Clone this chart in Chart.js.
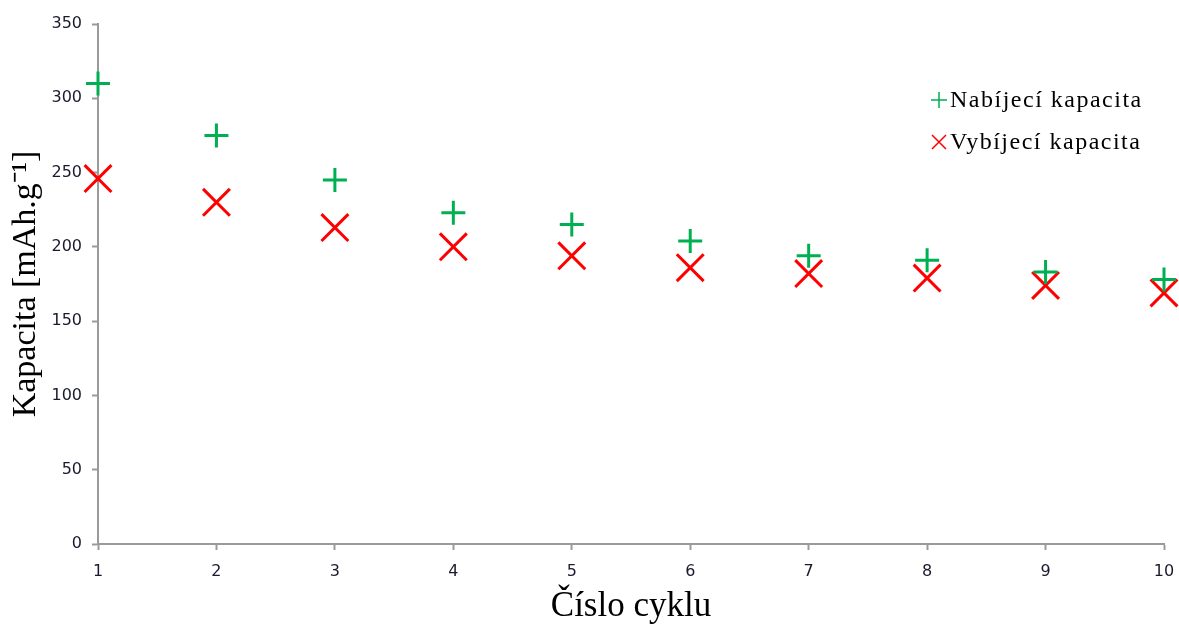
<!DOCTYPE html>
<html>
<head>
<meta charset="utf-8">
<script src="https://cdn.jsdelivr.net/npm/chart.js@4"></script>
<style>
  html, body { margin: 0; padding: 0; background: #fff; }
  #wrap { width: 1179px; height: 628px; }
</style>
</head>
<body>
<div id="wrap"><canvas id="chart" width="1179" height="628"></canvas></div>
<script>
// cycle numbers and capacities
const cycles = [1, 2, 3, 4, 5, 6, 7, 8, 9, 10];
const nabijeci = [310, 275, 245, 223, 215, 204, 194, 191, 183, 178];
const vybijeci = [246, 230, 213, 200, 194, 186, 182, 179, 174, 169];
const seriesNames = ['Nabíjecí kapacita', 'Vybíjecí kapacita'];
const yTicks = [0, 50, 100, 150, 200, 250, 300, 350];

const axisGray = '#9a9a9a';
const tickFont = { family: 'DejaVu Sans', size: 16 };

// legend drawn inside the plot, top right
const insideLegend = {
    id: 'insideLegend',
    afterDraw: function(chart) {
        const ctx = chart.ctx;
        const area = chart.chartArea;
        let x = area.right - 225;
        let y = area.top + 76;
        ctx.save();
        ctx.font = '24px "Liberation Serif"';
        ctx.letterSpacing = '1.5px';
        ctx.textBaseline = 'middle';
        chart.data.datasets.forEach(function(ds) {
            ctx.strokeStyle = ds.borderColor;
            ctx.lineWidth = 1.5;
            ctx.beginPath();
            if (ds.pointStyle === 'cross') {
                ctx.moveTo(x - 8, y); ctx.lineTo(x + 8, y);
                ctx.moveTo(x, y - 8); ctx.lineTo(x, y + 8);
            } else {
                ctx.moveTo(x - 7, y - 7); ctx.lineTo(x + 7, y + 7);
                ctx.moveTo(x + 7, y - 7); ctx.lineTo(x - 7, y + 7);
            }
            ctx.stroke();
            ctx.fillStyle = '#000';
            ctx.fillText(ds.label, x + 11, y + 1);
            y += 42;
        });
        ctx.restore();
    }
};

new Chart(document.getElementById('chart'), {
    type: 'scatter',
    data: {
        datasets: [
            {
                label: seriesNames[0],
                data: cycles.map(function(c, i) { return { x: c, y: nabijeci[i] }; }),
                pointStyle: 'cross',
                pointRadius: 12,
                pointHoverRadius: 12,
                borderColor: '#00b050',
                backgroundColor: '#00b050',
                pointBorderWidth: 3,
                clip: false,
            },
            {
                label: seriesNames[1],
                data: cycles.map(function(c, i) { return { x: c, y: vybijeci[i] }; }),
                pointStyle: 'crossRot',
                pointRadius: 19,
                pointHoverRadius: 19,
                borderColor: '#ff0000',
                backgroundColor: '#ff0000',
                pointBorderWidth: 3,
                clip: false,
            }
        ]
    },
    options: {
        responsive: false,
        animation: false,
        events: [],
        layout: { autoPadding: false, padding: { top: 24, right: 15, left: 0, bottom: 0 } },
        plugins: {
            legend: { display: false },
            tooltip: { enabled: false }
        },
        scales: {
            x: {
                type: 'linear',
                min: 1,
                max: 10,
                afterBuildTicks: function(axis) { axis.ticks = cycles.map(function(v) { return { value: v }; }); },
                afterFit: function(axis) { axis.height = 84; axis.paddingRight = 0; axis.paddingLeft = 0; },
                grid: { display: true, drawOnChartArea: false, drawTicks: true, tickLength: 6, tickColor: axisGray, tickWidth: 2 },
                border: { color: axisGray, width: 2 },
                ticks: { color: '#1a1a2e', font: tickFont, padding: 12 },
                title: {
                    display: true,
                    text: 'Číslo cyklu',
                    color: '#000',
                    font: { family: 'Liberation Serif', size: 35 },
                    padding: { top: 4, bottom: 0 }
                }
            },
            y: {
                min: 0,
                max: 350,
                afterBuildTicks: function(axis) { axis.ticks = yTicks.map(function(v) { return { value: v }; }); },
                afterFit: function(axis) { axis.width = 98; axis.paddingTop = 0; axis.paddingBottom = 0; },
                grid: { display: true, drawOnChartArea: false, drawTicks: true, tickLength: 6, tickColor: axisGray, tickWidth: 2 },
                border: { color: axisGray, width: 2 },
                ticks: { color: '#1a1a2e', font: tickFont, padding: 10 },
                title: {
                    display: true,
                    text: 'Kapacita [mAh.g⁻¹]',
                    color: '#000',
                    font: { family: 'Liberation Serif', size: 34 },
                    padding: { top: 6, bottom: 4 }
                }
            }
        }
    },
    plugins: [insideLegend]
});
</script>
</body>
</html>
